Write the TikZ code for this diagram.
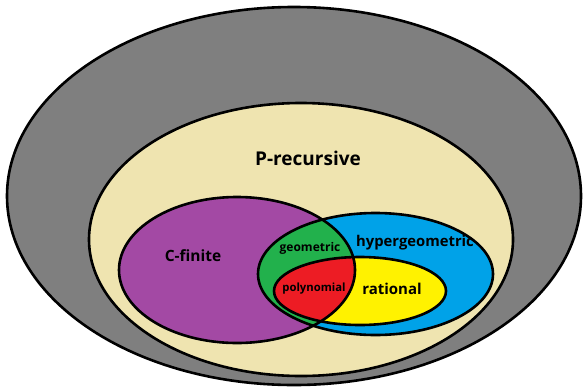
\documentclass[tikz,border=0pt]{standalone}
\usepackage{fontspec}
\setmainfont{Open Sans}
\begin{document}
\begin{tikzpicture}[x=1pt,y=-1pt,
  ring/.style={draw=black,line width=2.6pt},
  lbl/.style={inner sep=0pt,font=\bfseries,text=black}]
\definecolor{outergray}{RGB}{127,127,127}
\definecolor{beige}{RGB}{239,228,176}
\definecolor{cfin}{RGB}{163,73,164}
\definecolor{hyper}{RGB}{0,162,232}
\definecolor{ratl}{RGB}{255,242,0}
\definecolor{geom}{RGB}{34,177,76}
\definecolor{poly}{RGB}{237,28,36}
\useasboundingbox (0,0) rectangle (583,386);
% nested classes of sequences
\fill[outergray] (294,196) ellipse [x radius=287,y radius=189];
\fill[beige] (301,239.5) ellipse [x radius=212,y radius=136.5];
\fill[cfin] (237,270) ellipse [x radius=118,y radius=73];
\fill[hyper] (375.5,274) ellipse [x radius=117.5,y radius=61];
\fill[ratl] (360,291) ellipse [x radius=86,y radius=34];
% overlaps with the C-finite class
\begin{scope}
  \clip (237,270) ellipse [x radius=118,y radius=73];
  \fill[geom] (375.5,274) ellipse [x radius=117.5,y radius=61];
  \fill[poly] (360,291) ellipse [x radius=86,y radius=34];
\end{scope}
% outlines
\draw[ring] (294,196) ellipse [x radius=287,y radius=189];
\draw[ring] (301,239.5) ellipse [x radius=212,y radius=136.5];
\draw[ring] (237,270) ellipse [x radius=118,y radius=73];
\draw[ring] (375.5,274) ellipse [x radius=117.5,y radius=61];
\draw[ring] (360,291) ellipse [x radius=86,y radius=34];
% labels
\node[lbl,font=\fontsize{19}{22}\bfseries] (prec) at (308,158) {P-recursive};
\node[lbl,font=\fontsize{15.5}{18}\bfseries] (cfinite) at (193,256) {C-finite};
\node[lbl,font=\fontsize{14.8}{18}\bfseries] (hypergeo) at (415,243) {hypergeometric};
\node[lbl,font=\fontsize{12}{14}\bfseries] (geo) at (310,248) {geometric};
\node[lbl,font=\fontsize{11.3}{14}\bfseries] (polyn) at (314,289) {polynomial};
\node[lbl,font=\fontsize{15}{18}\bfseries] (ratn) at (392,289) {rational};
\end{tikzpicture}
\end{document}
